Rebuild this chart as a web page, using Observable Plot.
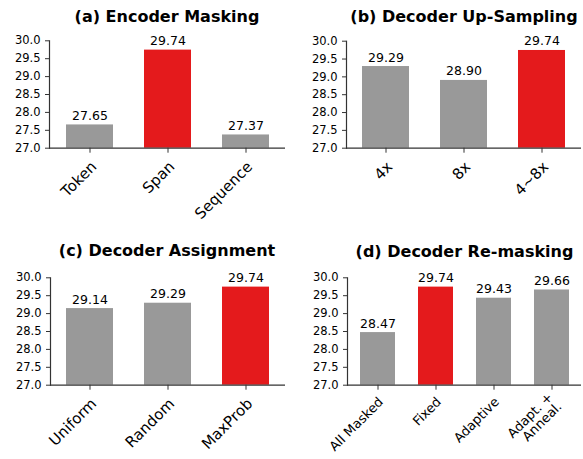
<!DOCTYPE html>
<html><head><meta charset="utf-8">
<script src="https://cdn.jsdelivr.net/npm/d3@7"></script>
<script src="https://cdn.jsdelivr.net/npm/@observablehq/plot@0.6"></script>
<style>
body{margin:0;background:#fff;font-family:"DejaVu Sans",sans-serif;}
#root{position:relative;width:583px;height:459px;overflow:hidden;}
.svgbox{position:absolute;}
.title{position:absolute;font-weight:bold;font-size:16px;text-align:center;white-space:nowrap;height:20px;line-height:20px;color:#000;}
</style></head><body><div id="root"></div>
<script>
// ---- data ----
const titleA = "(a) Encoder Masking";
const catsA = ["Token", "Span", "Sequence"];
const valsA = [27.65, 29.74, 27.37];
const bestA = "Span";

const titleB = "(b) Decoder Up-Sampling";
const catsB = ["4x", "8x", "4~8x"];
const valsB = [29.29, 28.90, 29.74];
const bestB = "4~8x";

const titleC = "(c) Decoder Assignment";
const catsC = ["Uniform", "Random", "MaxProb"];
const valsC = [29.14, 29.29, 29.74];
const bestC = "MaxProb";

const titleD = "(d) Decoder Re-masking";
const catsD = ["All Masked", "Fixed", "Adaptive", "Adapt. +\nAnneal."];
const valsD = [28.47, 29.74, 29.43, 29.66];
const bestD = "Fixed";

const yTicks = [27.0, 27.5, 28.0, 28.5, 29.0, 29.5, 30.0];
const yDomain = [27, 30];

const RED = "#e41a1c", GREY = "#999999", AXIS = "#333333";

function panel(cfg) {
  const data = cfg.cats.map((c, i) => ({cat: c, value: cfg.vals[i]}));
  const root = document.getElementById("root");
  const box = document.createElement("div");
  box.className = "svgbox";
  box.style.left = cfg.left + "px";
  box.style.top = cfg.top + "px";
  const chart = Plot.plot({
    width: cfg.width, height: cfg.height,
    marginLeft: cfg.mL, marginRight: cfg.mR, marginTop: cfg.mT, marginBottom: cfg.mB,
    style: {fontFamily: "DejaVu Sans", color: "#000", background: "transparent"},
    x: {domain: cfg.cats, paddingInner: 0.4, paddingOuter: 0.2, label: null},
    y: {domain: yDomain, label: null},
    marks: [
      Plot.barY(data, {x: "cat", y1: yDomain[0], y2: "value",
        fill: d => d.cat === cfg.best ? RED : GREY}),
      Plot.text(data, {x: "cat", y: "value", text: d => d.value.toFixed(2),
        lineAnchor: "bottom", dy: -5, fontSize: 12.5, fill: "#000"}),
      Plot.axisY({ticks: yTicks, tickFormat: d3.format(".1f"), tickSize: 4, tickPadding: 5,
        fontSize: cfg.yfs, stroke: AXIS, fill: "#000", label: null}),
      Plot.axisX({tickSize: 5, stroke: AXIS, label: null, text: null}),
      Plot.axisX({tickRotate: -45, tickSize: 0, tickPadding: cfg.xpad, dx: cfg.xdx, fontSize: cfg.xfs,
        fill: "#000", label: null}),
      Plot.ruleY([yDomain[0]], {stroke: AXIS, strokeWidth: 1.2}),
      Plot.frame({anchor: "left", stroke: AXIS, strokeWidth: 1.2})
    ]
  });
  box.appendChild(chart);
  root.appendChild(box);
  const t = document.createElement("div");
  t.className = "title";
  t.textContent = cfg.title;
  t.style.width = "300px";
  t.style.left = (cfg.tcx - 150) + "px";
  t.style.top = (cfg.tcy - 10) + "px";
  root.appendChild(t);
}

panel({title: titleA, cats: catsA, vals: valsA, best: bestA,
  left: 0, top: 30, width: 290, height: 200, mL: 49, mR: 5, mT: 10.3, mB: 82.3,
  xfs: 15, xpad: 16, xdx: 4, yfs: 11.5, tcx: 167, tcy: 17});
panel({title: titleB, cats: catsB, vals: valsB, best: bestB,
  left: 290, top: 30, width: 293, height: 200, mL: 56, mR: 2, mT: 10.7, mB: 82.3,
  xfs: 15, xpad: 16, xdx: 4, yfs: 11.5, tcx: 464, tcy: 17});
panel({title: titleC, cats: catsC, vals: valsC, best: bestC,
  left: 0, top: 262, width: 290, height: 197, mL: 50, mR: 5, mT: 15.3, mB: 74.3,
  xfs: 15, xpad: 16, xdx: 4, yfs: 11.5, tcx: 167, tcy: 251});
panel({title: titleD, cats: catsD, vals: valsD, best: bestD,
  left: 290, top: 262, width: 293, height: 197, mL: 57, mR: 2, mT: 15.3, mB: 74.3,
  xfs: 13, xpad: 14.5, xdx: 3, yfs: 11.5, tcx: 464.5, tcy: 251.5});
</script>
</body></html>
